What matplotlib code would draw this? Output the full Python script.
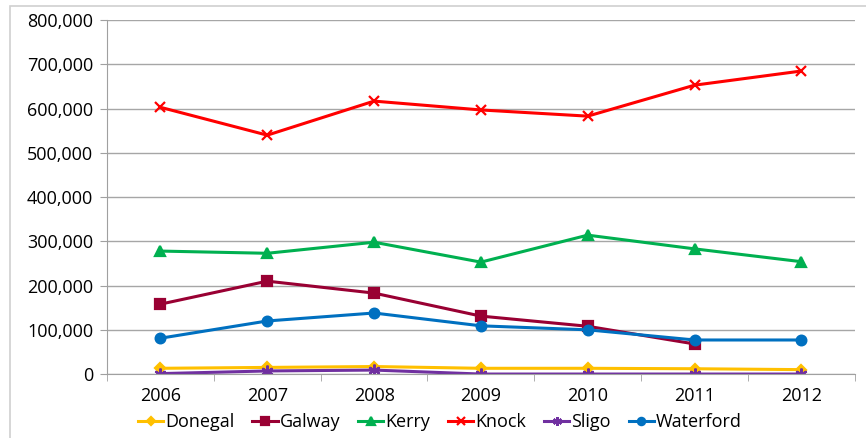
import matplotlib.pyplot as plt
from matplotlib.ticker import FuncFormatter
from matplotlib.patches import Rectangle

years = ["2006", "2007", "2008", "2009", "2010", "2011", "2012"]
donegal = [13000, 15000, 17000, 13000, 13000, 12000, 10000]
galway = [158000, 210000, 183000, 131000, 108000, 68000]
kerry = [278000, 273000, 298000, 253000, 314000, 283000, 254000]
knock = [603000, 540000, 617000, 597000, 583000, 653000, 685000]
sligo = [1000, 7000, 9000, 0, 0, 0, 0]
waterford = [81000, 120000, 138000, 109000, 100000, 77000, 77000]

plt.rcParams['font.family'] = ['Open Sans', 'DejaVu Sans']

fig = plt.figure(figsize=(8.66, 4.38), dpi=100)
ax = fig.add_axes([0.1236, 0.146, 0.8634, 0.808])

# light frame round the whole chart area
fig.patches.append(Rectangle((0.012, -0.05), 1.05, 1.036, transform=fig.transFigure,
                             fill=False, edgecolor='#d0d0d0', linewidth=1.2))

x = list(range(len(years)))
series = [
    ("Donegal", donegal, "#FFC000", "D", 5.5),
    ("Galway", galway, "#990033", "s", 7),
    ("Kerry", kerry, "#00B050", "^", 7.5),
    ("Knock", knock, "#FF0000", "x", 7.5),
    ("Sligo", sligo, "#7030A0", (6, 2, 0), 8.5),
    ("Waterford", waterford, "#0070C0", "o", 7),
]
for name, vals, col, mk, ms in series:
    ax.plot(x[:len(vals)], vals, color=col, marker=mk, markersize=ms,
            linewidth=2.2, markeredgewidth=1.6, label=name)

ax.set_xlim(-0.5, len(years) - 0.5)
ax.set_ylim(0, 800000)
ax.set_yticks(range(0, 800001, 100000))
ax.yaxis.set_major_formatter(FuncFormatter(lambda v, p: f"{int(v):,}"))
ax.set_xticks(x)
ax.set_xticklabels(years)
ax.set_xticks([i - 0.5 for i in range(len(years) + 1)], minor=True)
ax.tick_params(axis='x', which='major', length=0, pad=9, labelsize=13)
ax.tick_params(axis='x', which='minor', length=5, color='#a0a0a0')
ax.tick_params(axis='y', length=5, color='#a0a0a0', labelsize=13, pad=5)

ax.grid(axis='y', color='#a6a6a6', linewidth=1)
ax.set_axisbelow(True)
for s in ['top', 'right']:
    ax.spines[s].set_visible(False)
for s in ['left', 'bottom']:
    ax.spines[s].set_color('#a0a0a0')

fig.legend(*ax.get_legend_handles_labels(), loc='center',
           bbox_to_anchor=(0.508, 0.036), bbox_transform=fig.transFigure,
           ncol=6, frameon=False, fontsize=13, handlelength=1.4,
           handletextpad=0.1, columnspacing=1.0, markerscale=0.75,
           borderpad=0.1)

fig.savefig("out.png", dpi=100)
